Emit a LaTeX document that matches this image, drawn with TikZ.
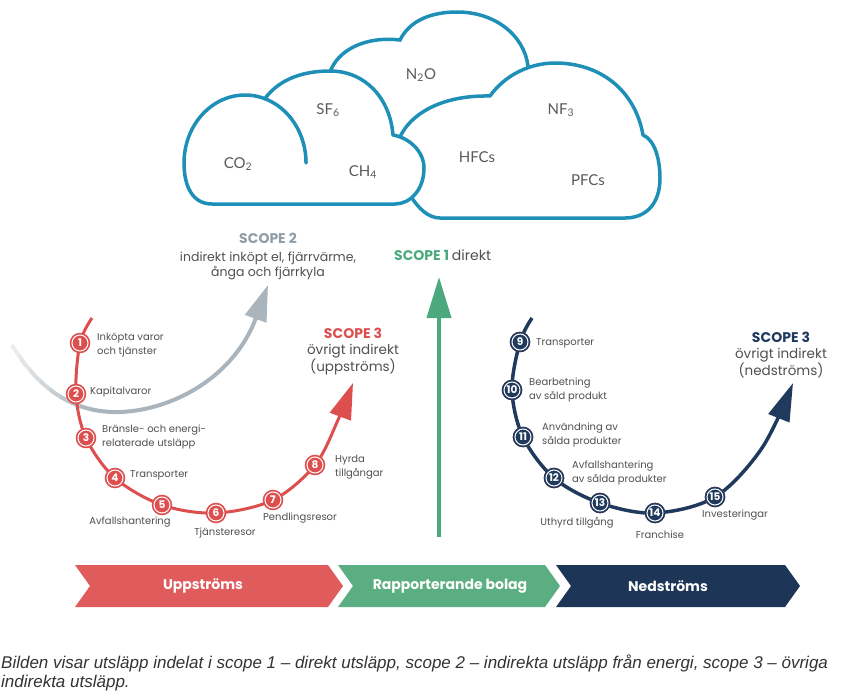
\documentclass[tikz,border=0pt]{standalone}
\usepackage{fontspec}
\setmainfont{Poppins}
\newfontfamily\gasfont{Lato}
\newfontfamily\capfont{Liberation Sans}
\usetikzlibrary{arrows.meta}
\definecolor{cloudblue}{HTML}{1E90B8}
\definecolor{gasgray}{HTML}{5A5A5A}
\definecolor{txtgray}{HTML}{505050}
\definecolor{sgray}{HTML}{8E9DA8}
\definecolor{arcgray}{HTML}{A9B4BC}
\definecolor{sgreen}{HTML}{4CA97E}
\definecolor{sred}{HTML}{DD4F4F}
\definecolor{snavy}{HTML}{1F3A5C}
\definecolor{chred}{HTML}{E05B5B}
\definecolor{chgreen}{HTML}{5BAE82}
\definecolor{chnavy}{HTML}{1D3556}
\begin{document}
\begin{tikzpicture}[x=1pt,y=-1pt,
  cloudshape/.style={draw=cloudblue, line width=3.5pt, fill=white, line join=round},
  cloudline/.style={draw=cloudblue, line width=3.5pt, line cap=round},
  gas/.style={font=\gasfont\fontsize{15}{17}\selectfont, text=gasgray, inner sep=0pt},
  scopehead/.style={font=\bfseries\fontsize{14}{16}\selectfont, inner sep=0pt},
  scopetxt/.style={font=\fontsize{12.5}{15}\selectfont, text=txtgray, align=center, inner sep=0pt},
  scopetxtb/.style={font=\fontsize{13.5}{17}\selectfont, text=txtgray, align=center, inner sep=0pt},
  lbl/.style={font=\fontsize{10}{14.5}\selectfont, text=txtgray, align=left, inner sep=0pt},
  numred/.style={circle, fill=sred, draw=white, line width=1pt, minimum size=16pt, inner sep=0pt,
     preaction={draw=sred, line width=4.5pt}, font=\bfseries\fontsize{10.5}{10.5}\selectfont, text=white},
  numnavy/.style={numred, fill=snavy, preaction={draw=snavy, line width=4.5pt}},
  bandtxt/.style={font=\bfseries\fontsize{14}{16}\selectfont, text=white, inner sep=0pt},
  captxt/.style={anchor=base west, inner sep=0pt, text=black!80, font=\capfont\itshape\fontsize{17}{20}\selectfont}
]
\useasboundingbox (0,0) rectangle (865,693);

% ---------- clouds ----------
\draw[cloudline] (330,72) .. controls (338,50) and (365,36) .. (400,40)
   .. controls (410,20) and (432,12) .. (457,12)
   .. controls (495,12) and (524,35) .. (528,66);
\draw[cloudshape] (400,137) .. controls (410,115) and (440,95) .. (490,96)
   .. controls (505,75) and (530,63) .. (555,63)
   .. controls (600,63) and (635,90) .. (643,135)
   .. controls (655,140) and (660,160) .. (660,178)
   .. controls (660,205) and (645,218) .. (625,218) -- (440,218)
   .. controls (428,218) and (418,208) .. (410,195) -- cycle;
\draw[cloudshape] (212,204) .. controls (193,204) and (184,187) .. (184,163)
   arc[start angle=180, end angle=289, x radius=61, y radius=68]
   .. controls (280,78) and (305,71) .. (330,71)
   .. controls (365,71) and (390,98) .. (393,135)
   .. controls (410,138) and (424,152) .. (424,168)
   .. controls (424,190) and (410,204) .. (395,204) -- cycle;
\draw[cloudline] (264.9,98.7) arc[start angle=289, end angle=360, x radius=61, y radius=68];

\node[gas] (co2) at (238,164) {CO\textsubscript{2}};
\node[gas] (sf6) at (328,110) {SF\textsubscript{6}};
\node[gas] (ch4) at (363,172) {CH\textsubscript{4}};
\node[gas] (n2o) at (421,75) {N\textsubscript{2}O};
\node[gas] (hfc) at (477,157) {HFCs};
\node[gas] (nf3) at (561,110) {NF\textsubscript{3}};
\node[gas] (pfc) at (588,180) {PFCs};

% ---------- scope 2 gray arc (fading in from the left) ----------
\coordinate (g0) at (12,345);
\coordinate (gt) at (268,285);
\foreach \k in {0,...,8} {
  \pgfmathsetmacro{\shadepct}{15+\k*10}
  \begin{scope}
    \clip (\k*10,0) rectangle (\k*10+10.5,693);
    \draw[arcgray!\shadepct, line width=4pt] (g0) .. controls (45,400) and (85,413) .. (120,412)
       .. controls (175,410) and (235,375) .. (gt);
  \end{scope}
}
\begin{scope}
  \clip (90,0) rectangle (865,693);
  \draw[arcgray, line width=4pt, -{Triangle[length=36pt,width=22pt]}] (g0) .. controls (45,400) and (85,413) .. (120,412)
     .. controls (175,410) and (235,375) .. (gt);
\end{scope}

\node[scopehead, text=sgray] (s2h) at (268,238) {SCOPE 2};
\node[scopetxt] (s2t) at (268,266) {indirekt inköpt el, fjärrvärme,\\ånga och fjärrkyla};

% ---------- scope 1 green arrow ----------
\coordinate (gb) at (439,537);
\coordinate (gu) at (439,277);
\draw[sgreen, line width=4pt, -{Triangle[length=41pt,width=24pt]}] (gb) -- (gu);
\node[scopehead, anchor=west] (s1h) at (394,255) {\textcolor{sgreen}{SCOPE 1} \textcolor{txtgray}{\mdseries direkt}};

% ---------- scope 3 upstream ----------
\coordinate (r0) at (92,318);
\coordinate (p1) at (80,343);
\coordinate (p2) at (76,394);
\coordinate (p3) at (86,438);
\coordinate (p4) at (115,478);
\coordinate (p5) at (162,505);
\coordinate (p6) at (216,513);
\coordinate (p7) at (273,500);
\coordinate (p8) at (315,465);
\coordinate (r9) at (338,420);
\coordinate (rt) at (353,383);
\draw[sred, line width=3pt, -{Triangle[length=36pt,width=22pt]}]
   plot[smooth, tension=0.55] coordinates {(r0) (p1) (p2) (p3) (p4) (p5) (p6) (p7) (p8) (r9) (rt)};
\foreach \i in {1,...,8} \node[numred] (c\i) at (p\i) {\i};

\node[scopehead, text=sred] (s3uh) at (353,333) {SCOPE 3};
\node[scopetxtb] (s3ut) at (353,359.5) {övrigt indirekt\\(uppströms)};

\node[lbl, anchor=west] (l1) at (97,345) {Inköpta varor\\och tjänster};
\node[lbl, anchor=west] (l2) at (90,392) {Kapitalvaror};
\node[lbl, anchor=west] (l3) at (102,437) {Bränsle- och energi-\\relaterade utsläpp};
\node[lbl, anchor=west] (l4) at (130,475) {Transporter};
\node[lbl] (l5) at (130,522) {Avfallshantering};
\node[lbl] (l6) at (225,533) {Tjänsteresor};
\node[lbl] (l7) at (300,518) {Pendlingsresor};
\node[lbl, anchor=west] (l8) at (335,467) {Hyrda\\tillgångar};

% ---------- scope 3 downstream ----------
\coordinate (n0) at (532,318);
\coordinate (p9) at (520,342);
\coordinate (p10) at (512,390);
\coordinate (p11) at (523,437);
\coordinate (p12) at (554,478);
\coordinate (p13) at (600,503);
\coordinate (p14) at (655,513);
\coordinate (p15) at (715,497);
\coordinate (n16) at (762,448);
\coordinate (nt) at (793,383);
\draw[snavy, line width=3.5pt, -{Triangle[length=38pt,width=22pt]}]
   plot[smooth, tension=0.55] coordinates {(n0) (p9) (p10) (p11) (p12) (p13) (p14) (p15) (n16) (nt)};
\foreach \i in {9,...,15} \node[numnavy] (c\i) at (p\i) {\i};

\node[scopehead, text=snavy] (s3dh) at (781,337) {SCOPE 3};
\node[scopetxtb] (s3dt) at (781,363.5) {övrigt indirekt\\(nedströms)};

\node[lbl, anchor=west] (l9) at (536,343) {Transporter};
\node[lbl, anchor=west] (l10) at (529,390) {Bearbetning\\av såld produkt};
\node[lbl, anchor=west] (l11) at (542,435) {Användning av\\sålda produkter};
\node[lbl, anchor=west] (l12) at (572,473) {Avfallshantering\\av sålda produkter};
\node[lbl] (l13) at (577,523) {Uthyrd tillgång};
\node[lbl] (l14) at (660,535) {Franchise};
\node[lbl] (l15) at (735,515) {Investeringar};

% ---------- chevron band ----------
\fill[chred] (75,565) -- (328,565) -- (343,586) -- (328,607) -- (75,607) -- (90,586) -- cycle;
\fill[chgreen] (338,565) -- (545,565) -- (560,586) -- (545,607) -- (338,607) -- (353,586) -- cycle;
\fill[chnavy] (556,565) -- (785,565) -- (800,586) -- (785,607) -- (556,607) -- (571,586) -- cycle;
\node[bandtxt] (b1) at (203,586) {Uppströms};
\node[bandtxt] (b2) at (450,586) {Rapporterande bolag};
\node[bandtxt] (b3) at (668,586) {Nedströms};

% ---------- caption ----------
\node[captxt] (cap1) at (1,668) {Bilden visar utsläpp indelat i scope 1 – direkt utsläpp, scope 2 – indirekta utsläpp från energi, scope 3 – övriga};
\node[captxt] (cap2) at (1,687) {indirekta utsläpp.};
\end{tikzpicture}
\end{document}
